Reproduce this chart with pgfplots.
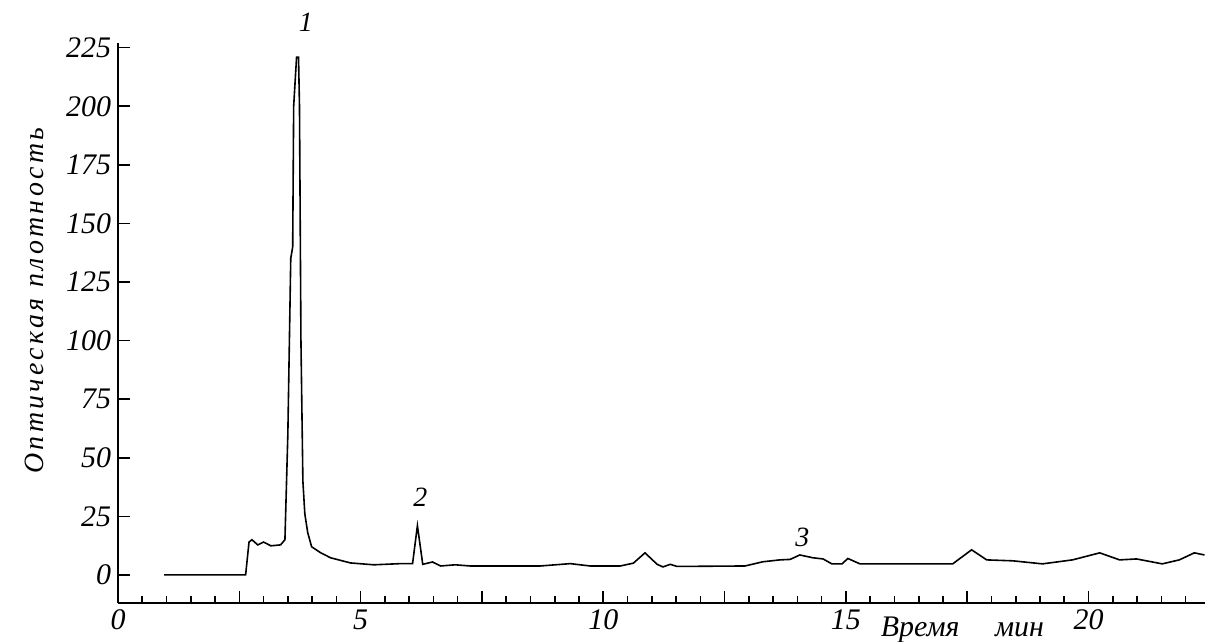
\documentclass[border=0pt]{standalone}
\usepackage{fontspec}
\setmainfont{Liberation Serif}
\usepackage{pgfplots}
\pgfplotsset{compat=1.18}
\newfontfamily\lbl[LetterSpace=12]{Liberation Serif}

\begin{document}
\begin{tikzpicture}
\begin{axis}[
    name=ax,
    scale only axis,
    width=543.5bp, height=280bp,
    xmin=0, xmax=22.4,
    ymin=-12, ymax=227,
    axis x line=bottom, axis y line=left,
    axis line style={-, line width=1bp},
    xtick={0,2.5,...,20},
    xticklabels={0,,5,,10,,15,,20},
    minor xtick={0.5,1,...,22},
    ytick={0,25,...,225},
    yticklabels={0,25,50,75,100,125,150,175,200,225},
    tick align=inside,
    major tick length=6bp, minor tick length=3.5bp,
    every tick/.style={black, line width=0.8bp},
    tick label style={font=\fontsize{15}{18}\selectfont\itshape},
    clip=false,
]
    % хроматограмма
    \addplot[black, line width=0.8bp] coordinates {
        (0.95,0) (2.63,0) (2.70,14) (2.76,15) (2.88,12.8) (3.00,14)
        (3.15,12.4) (3.35,12.8) (3.44,15) (3.50,60) (3.56,135) (3.60,140)
        (3.62,200) (3.68,221) (3.72,221) (3.74,200) (3.77,100) (3.81,40)
        (3.85,26) (3.91,18) (3.99,12) (4.18,9.4) (4.38,7.3) (4.79,5.1)
        (5.27,4.3) (5.82,4.8) (6.07,4.8) (6.17,21) (6.28,4.5) (6.48,5.5)
        (6.65,3.8) (6.95,4.3) (7.26,3.8) (8.70,3.8) (9.32,4.8) (9.73,3.8)
        (10.35,3.8) (10.62,5) (10.86,9.4) (11.11,4.5) (11.23,3.4) (11.38,4.5)
        (11.52,3.6) (12.92,3.8) (13.29,5.6) (13.64,6.4) (13.85,6.6) (14.05,8.5)
        (14.32,7.3) (14.53,6.8) (14.71,4.7) (14.92,4.7) (15.04,7) (15.29,4.7)
        (17.20,4.7) (17.59,10.7) (17.90,6.4) (18.44,6) (19.05,4.7) (19.67,6.4)
        (20.23,9.4) (20.64,6.4) (20.99,6.8) (21.52,4.7) (21.87,6.4) (22.18,9.4)
        (22.39,8.5)
    };

    % номера пиков
    \node[font=\fontsize{14}{16}\selectfont\itshape] at (axis cs:3.87,236) {1};
    \node[font=\fontsize{14}{16}\selectfont\itshape] at (axis cs:6.23,33) {2};
    \node[font=\fontsize{14}{16}\selectfont\itshape] at (axis cs:14.1,16) {3};

    % подписи осей
    \node[font=\fontsize{14}{16}\selectfont\lbl\itshape, rotate=90]
        at ([xshift=-42bp]rel axis cs:0,0.54) {Оптическая плотность};
    \node[font=\fontsize{15}{18}\selectfont\itshape]
        at ([yshift=-13.5bp]axis cs:17.4,-12) {Время\hspace{14bp} мин};
\end{axis}
\pgfresetboundingbox
\path ([xshift=-59bp,yshift=-19.5bp]ax.south west) rectangle ([yshift=21.5bp]ax.north east);
\end{tikzpicture}
\end{document}
